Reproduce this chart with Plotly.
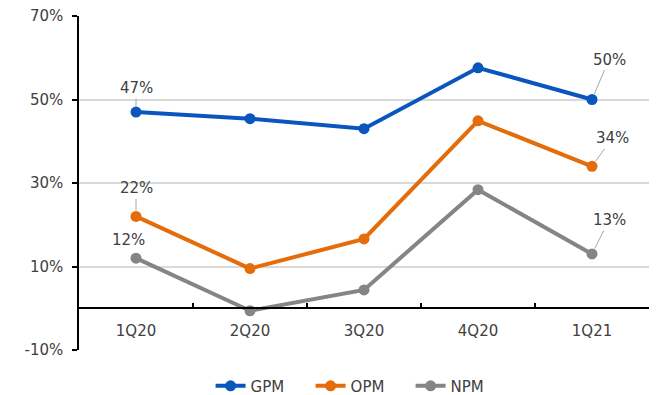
import plotly.graph_objects as go

quarters = ["1Q20", "2Q20", "3Q20", "4Q20", "1Q21"]
gpm = [47, 45.4, 43.0, 57.6, 50]
opm = [22, 9.5, 16.6, 44.9, 34]
npm = [12, -0.6, 4.4, 28.4, 13]

y_ticks = [-10, 10, 30, 50, 70]
y_tick_text = ["-10%", "10%", "30%", "50%", "70%"]

colors = {"GPM": "#0A56BE", "OPM": "#E46C0A", "NPM": "#858585"}
font_family = "DejaVu Sans"
text_color = "#404040"
font_size = 15

fig = go.Figure()
for name, vals in (("GPM", gpm), ("OPM", opm), ("NPM", npm)):
    fig.add_trace(go.Scatter(
        x=quarters, y=vals, name=name, mode="lines+markers",
        line=dict(color=colors[name], width=4),
        marker=dict(color=colors[name], size=11),
    ))

# value labels on the first and last quarter, with thin leader lines
label_specs = [
    (gpm, 0, 0, -24, True),
    (gpm, 4, 17, -40, True),
    (opm, 0, 0, -28, True),
    (opm, 4, 20, -28, True),
    (npm, 0, -8, -18, False),
    (npm, 4, 17, -34, True),
]
for series, idx, ax, ay, arrow in label_specs:
    fig.add_annotation(
        x=quarters[idx], y=series[idx], text=f"{series[idx]:.0f}%",
        showarrow=True, arrowhead=0, arrowwidth=1,
        arrowcolor="#a6a6a6" if arrow else "rgba(0,0,0,0)",
        standoff=6, ax=ax, ay=ay,
        font=dict(family=font_family, size=font_size, color=text_color),
    )

fig.update_layout(
    width=656, height=395,
    margin=dict(l=79, r=7, t=16, b=45, autoexpand=False),
    paper_bgcolor="white", plot_bgcolor="white",
    font=dict(family=font_family, size=font_size, color=text_color),
    legend=dict(orientation="h", x=0.494, xanchor="center", y=-0.108,
                yanchor="middle", font=dict(size=font_size, color=text_color),
                itemwidth=30, entrywidth=55, tracegroupgap=0),
    showlegend=True,
)
fig.update_xaxes(
    type="category", range=[-0.5, 4.5],
    anchor="free", position=10 / 80,
    showline=True, linecolor="black", linewidth=1.5,
    ticks="inside", tickson="boundaries", ticklen=5, tickcolor="black",
    tickwidth=1.5, showgrid=False, ticklabelstandoff=9,
)
fig.update_yaxes(
    range=[-10, 70], tickvals=y_ticks, ticktext=y_tick_text,
    showline=True, linecolor="black", linewidth=1.5,
    ticks="outside", ticklen=5, tickcolor="black", tickwidth=1.5,
    showgrid=True, gridcolor="#d9d9d9", gridwidth=1.5, zeroline=False,
    ticklabelstandoff=6,
)

fig.write_html("out.html")
